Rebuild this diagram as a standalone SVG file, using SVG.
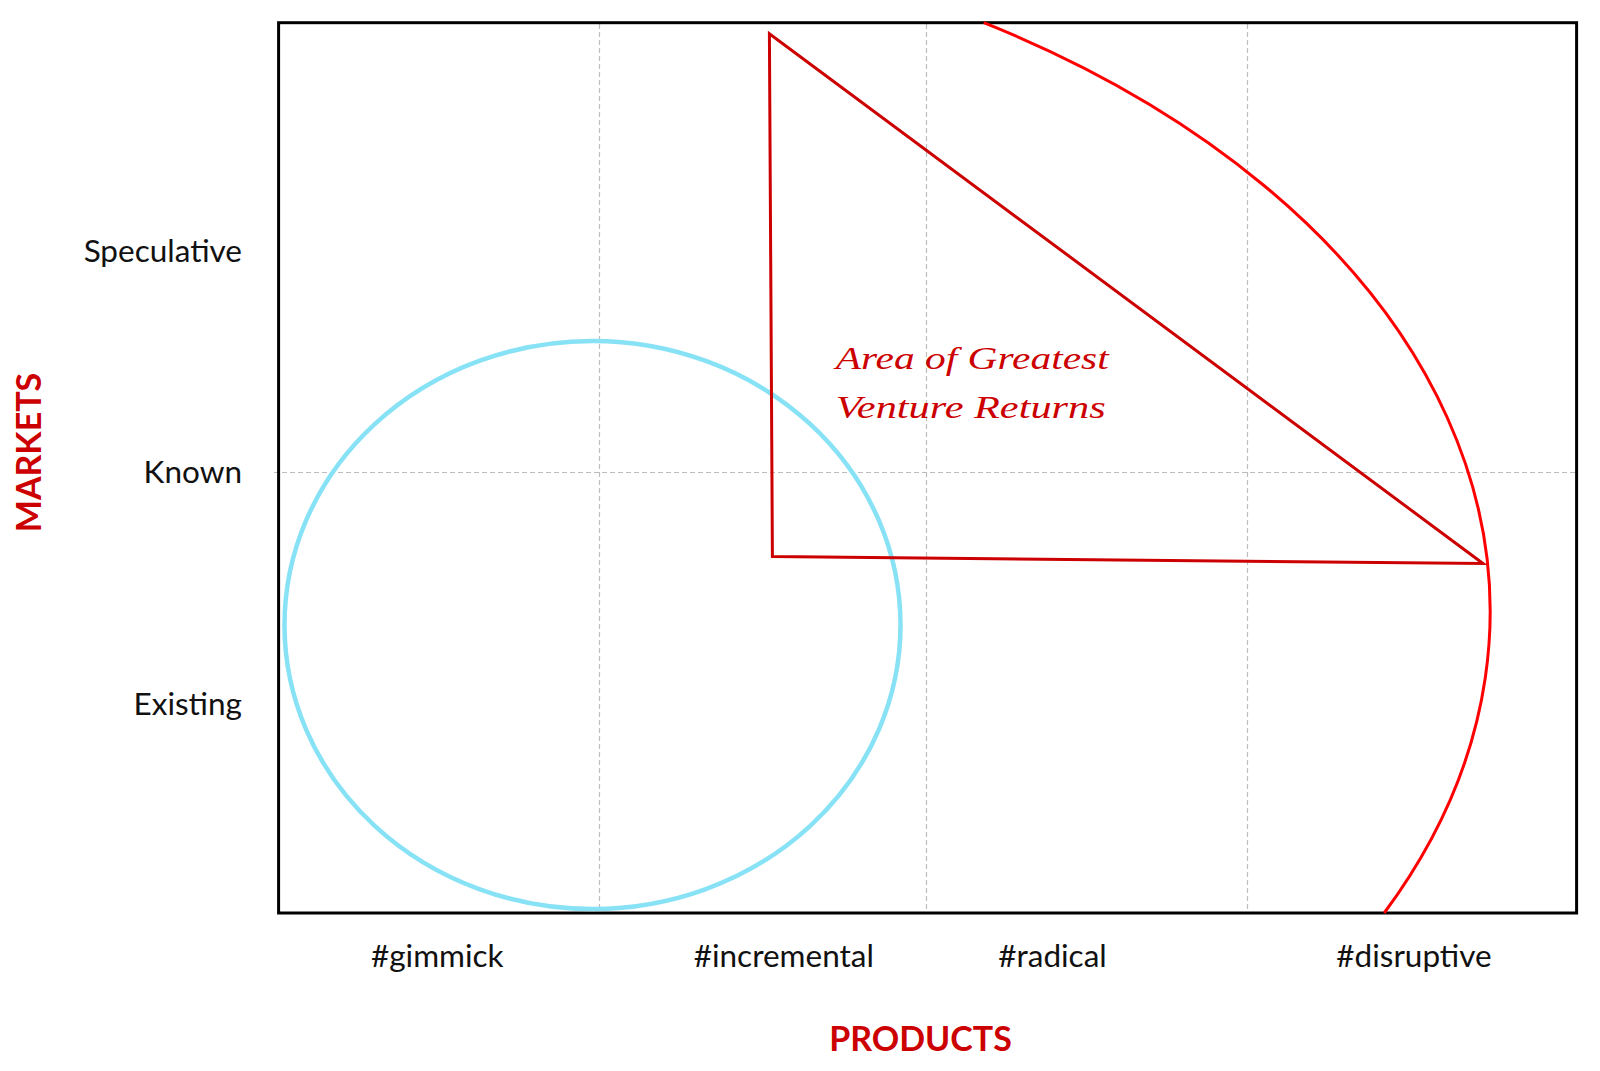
<svg xmlns="http://www.w3.org/2000/svg" width="1600" height="1071" viewBox="0 0 1600 1071">
<style>
.lbl{font-family:Lato,"Liberation Sans",sans-serif;font-size:31.5px;fill:#111}
.axis{font-family:Lato,"Liberation Sans",sans-serif;font-size:34px;font-weight:bold;fill:#cc0000}
.grid{stroke:#bdbdbd;stroke-width:1.2;stroke-dasharray:5 3;fill:none}
.script{font-family:"Liberation Serif","DejaVu Serif",serif;font-style:italic;font-size:31px;fill:#cc0000}
</style>
<rect width="1600" height="1071" fill="#ffffff"/>
<g id="grid">
<line class="grid" x1="599.5" y1="24" x2="599.5" y2="912"/>
<line class="grid" x1="926.5" y1="24" x2="926.5" y2="912"/>
<line class="grid" x1="1247.5" y1="24" x2="1247.5" y2="912"/>
<line class="grid" x1="274" y1="472.5" x2="1576" y2="472.5"/>
</g>
<g id="frame">
<rect x="278.6" y="22.7" width="1298" height="890.3" fill="none" stroke="#000" stroke-width="3"/>
</g>
<g id="existing-circle">
<ellipse cx="592.5" cy="625" rx="308" ry="284" fill="none" stroke="#88e2f5" stroke-width="4.5"/>
</g>
<g id="disruptive-arc">
<path d="M983.8 22.7 A1064 692 0 0 1 1384.2 913" fill="none" stroke="#ff0000" stroke-width="3"/>
</g>
<g id="venture-triangle">
<path d="M769.4 33.7 L772.4 556.5 L1483 563.5 Z" fill="none" stroke="#cc0000" stroke-width="3" stroke-linejoin="miter"/>
<text class="script" x="835.7" y="368.5" textLength="273" lengthAdjust="spacingAndGlyphs">Area of Greatest</text>
<text class="script" x="835.7" y="418.4" textLength="270" lengthAdjust="spacingAndGlyphs">Venture Returns</text>
</g>
<g id="y-labels">
<text class="lbl" x="242" y="261.5" text-anchor="end">Speculative</text>
<text class="lbl" x="242" y="482.5" text-anchor="end">Known</text>
<text class="lbl" x="242" y="714.5" text-anchor="end">Existing</text>
</g>
<g id="x-labels">
<text class="lbl" x="437.3" y="967" text-anchor="middle">#gimmick</text>
<text class="lbl" x="783.8" y="967" text-anchor="middle">#incremental</text>
<text class="lbl" x="1052.5" y="967" text-anchor="middle">#radical</text>
<text class="lbl" x="1414" y="967" text-anchor="middle">#disruptive</text>
</g>
<g id="axis-titles">
<text class="axis" x="920.5" y="1050.5" text-anchor="middle">PRODUCTS</text>
<text class="axis" transform="translate(41 452.5) rotate(-90)" x="0" y="0" text-anchor="middle">MARKETS</text>
</g>
</svg>
